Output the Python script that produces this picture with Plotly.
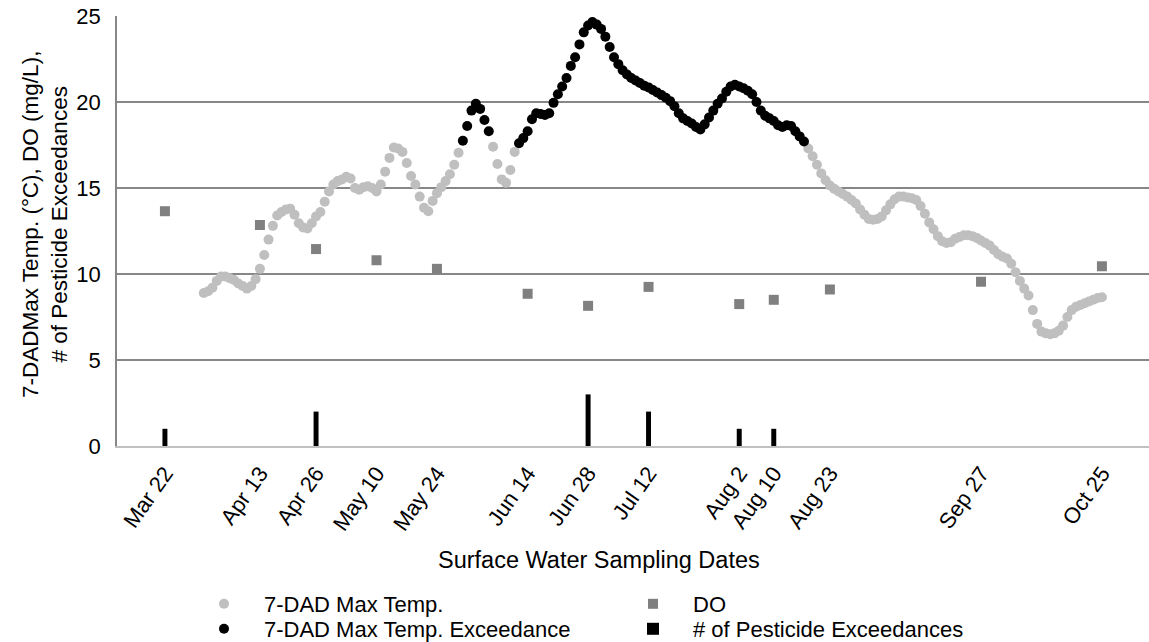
import pandas as pd
import plotly.graph_objects as go

# Surface water sampling dates and results
sample_dates = ["2021-03-22", "2021-04-13", "2021-04-26", "2021-05-10", "2021-05-24",
                "2021-06-14", "2021-06-28", "2021-07-12", "2021-08-02", "2021-08-10",
                "2021-08-23", "2021-09-27", "2021-10-25"]
do_mg_l = [13.65, 12.85, 11.45, 10.8, 10.3, 8.85, 8.15, 9.25, 8.25, 8.5, 9.1, 9.55, 10.45]
pesticide_exceedances = [1, 0, 2, 0, 0, 0, 3, 2, 1, 1, 0, 0, 0]

# Daily 7-day average of daily maximum water temperature (deg C), Mar 31 - Oct 25
temp_start = "2021-03-31"
temp_7dadm = [
    8.9, 9.0, 9.2, 9.6, 9.85, 9.85, 9.75, 9.65, 9.45, 9.3,
    9.15, 9.3, 9.7, 10.3, 11.1, 12.0, 12.8, 13.4, 13.6, 13.75,
    13.8, 13.45, 12.95, 12.7, 12.65, 12.95, 13.35, 13.6, 14.2, 14.8,
    15.2, 15.4, 15.5, 15.65, 15.55, 15.0, 14.9, 15.05, 15.1, 15.0,
    14.8, 15.2, 15.95, 16.75, 17.35, 17.3, 17.1, 16.45, 15.7, 15.2,
    14.5, 13.85, 13.65, 14.25, 14.7, 15.05, 15.4, 15.8, 16.35, 17.05,
    17.75, 18.6, 19.5, 19.9, 19.6, 18.95, 18.3, 17.4, 16.4, 15.5,
    15.3, 16.05, 17.1, 17.6, 17.9, 18.3, 19.0, 19.35, 19.3, 19.25,
    19.35, 19.95, 20.45, 20.9, 21.4, 22.1, 22.6, 23.35, 24.05, 24.45,
    24.65, 24.5, 24.25, 23.8, 23.2, 22.6, 22.2, 21.85, 21.6, 21.4,
    21.25, 21.1, 20.95, 20.85, 20.7, 20.55, 20.4, 20.25, 20.05, 19.75,
    19.35, 19.05, 18.9, 18.75, 18.55, 18.4, 18.7, 19.1, 19.5, 19.9,
    20.2, 20.6, 20.9, 21.0, 20.9, 20.8, 20.65, 20.45, 20.0, 19.5,
    19.2, 19.05, 18.9, 18.65, 18.55, 18.65, 18.6, 18.3, 18.0, 17.7,
    17.3, 16.85, 16.35, 15.85, 15.45, 15.15, 14.95, 14.8, 14.65, 14.5,
    14.3, 14.1, 13.75, 13.45, 13.2, 13.15, 13.2, 13.35, 13.7, 14.05,
    14.35, 14.5, 14.5, 14.45, 14.4, 14.3, 13.95, 13.5, 13.0, 12.6,
    12.2, 11.9, 11.8, 11.85, 12.05, 12.15, 12.25, 12.25, 12.2, 12.1,
    11.95, 11.8, 11.65, 11.4, 11.15, 11.0, 10.9, 10.6, 10.1, 9.6,
    9.15, 8.75, 7.9, 7.1, 6.65, 6.55, 6.5, 6.55, 6.7, 7.0,
    7.5, 7.9, 8.1, 8.2, 8.3, 8.4, 8.5, 8.6, 8.65,
]
temp_criterion = 17.5

temp_dates = pd.date_range(temp_start, periods=len(temp_7dadm), freq="D")
below_x = [d for d, t in zip(temp_dates, temp_7dadm) if t <= temp_criterion]
below_y = [t for t in temp_7dadm if t <= temp_criterion]
over_x = [d for d, t in zip(temp_dates, temp_7dadm) if t > temp_criterion]
over_y = [t for t in temp_7dadm if t > temp_criterion]

W, H = 1149, 642
FONT = "Liberation Sans, Arial, sans-serif"
GRID = "#878787"
LEG_FONT = 22

fig = go.Figure()
fig.add_trace(go.Scatter(
    x=below_x, y=below_y, mode="markers", name="7-DAD Max Temp.",
    marker=dict(symbol="circle", size=10, color="#bfbfbf"), legend="legend"))
fig.add_trace(go.Scatter(
    x=over_x, y=over_y, mode="markers", name="7-DAD Max Temp. Exceedance",
    marker=dict(symbol="circle", size=10, color="#000000"), legend="legend2"))
fig.add_trace(go.Scatter(
    x=sample_dates, y=do_mg_l, mode="markers", name="DO",
    marker=dict(symbol="square", size=10, color="#808080"), legend="legend3"))
fig.add_trace(go.Bar(
    x=sample_dates, y=pesticide_exceedances, name="# of Pesticide Exceedances",
    marker=dict(color="#000000", line=dict(width=0)), width=1.15 * 86400000,
    legend="legend4"))


def legend_box(marker_x, center_y):
    # one legend entry, symbol centred on marker_x, text 40 px to its right
    return dict(xref="container", yref="container",
                x=(marker_x - 40) / W, xanchor="left",
                y=1 - center_y / H, yanchor="middle",
                itemwidth=70, font=dict(size=LEG_FONT, family=FONT),
                bgcolor="rgba(0,0,0,0)", borderwidth=0)


fig.update_layout(
    width=W, height=H,
    margin=dict(l=117, r=0, t=16, b=196, autoexpand=False),
    paper_bgcolor="white", plot_bgcolor="white",
    font=dict(family=FONT, size=22, color="#000000"),
    showlegend=True,
    legend=legend_box(224, 604),
    legend2=legend_box(224, 629),
    legend3=legend_box(653, 604),
    legend4=legend_box(653, 629),
    xaxis=dict(
        type="date", range=["2021-03-10 21:36", "2021-11-04 21:36"],
        tickvals=sample_dates, tickformat="%b %-d", tickangle=-55,
        ticks="", showgrid=False, showline=True, linecolor="#c0c0c0", linewidth=1.5,
        tickfont=dict(size=22), ticklabelstandoff=4, zeroline=False),
    yaxis=dict(
        range=[0, 25], dtick=5, showgrid=True, gridcolor=GRID, gridwidth=1.5,
        showline=True, linecolor=GRID, linewidth=1.5, zeroline=False,
        ticks="", ticklabelstandoff=10, tickfont=dict(size=22)),
    annotations=[
        dict(text="7-DADMax Temp. (°C), DO (mg/L),<br># of Pesticide Exceedances",
             xref="paper", yref="paper", x=(45 - 117) / 1032, y=(446 - 225) / 430,
             textangle=-90, xanchor="center", yanchor="middle", showarrow=False,
             font=dict(size=22.5)),
        dict(text="Surface Water Sampling Dates", xref="paper", yref="paper",
             x=(599 - 117) / 1032, y=(446 - 560) / 430, xanchor="center",
             yanchor="middle", showarrow=False, font=dict(size=23.5)),
    ],
)

fig.write_html("out.html")
